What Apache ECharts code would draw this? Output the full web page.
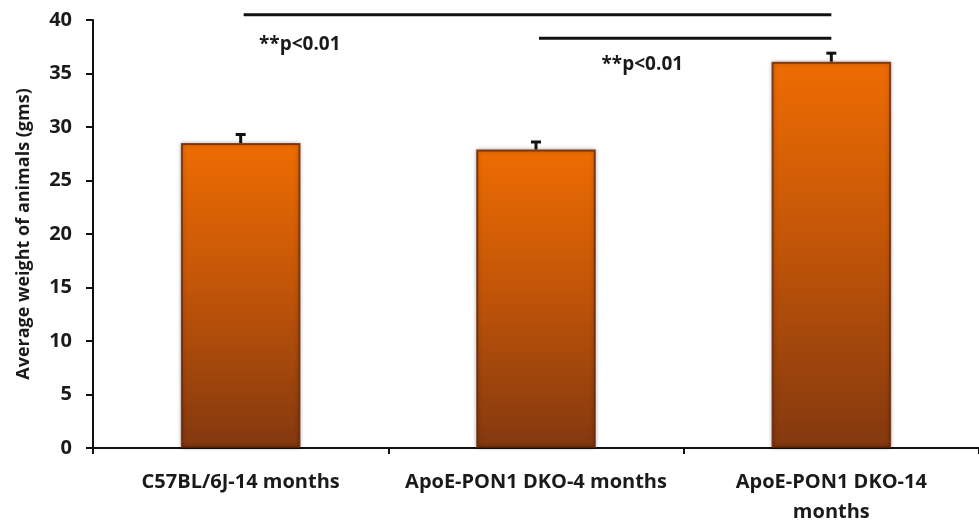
<!DOCTYPE html>
<html>
<head>
<meta charset="utf-8">
<script src="https://cdn.jsdelivr.net/npm/echarts@6/dist/echarts.min.js"></script>
<style>
html,body{margin:0;padding:0;background:#fff;}
#chart{width:979px;height:527px;}
</style>
</head>
<body>
<div id="chart"></div>
<script>
var categories = ['C57BL/6J-14 months', 'ApoE-PON1 DKO-4 months', 'ApoE-PON1 DKO-14\nmonths'];
var weights = [28.5, 27.9, 36.1];
var errors = [0.8, 0.7, 0.8];
var yTicks = { min: 0, max: 40, interval: 5 };
var sigFrom = [0, 1];
var sigTo = [2, 2];
var sigLevel = [40.5, 38.3];
var sigText = ['**p<0.01', '**p<0.01'];
var sigTextCat = [0.2, 1.36];
var sigTextLevel = [37.7, 35.8];

var FONT = '"Open Sans", Lato, sans-serif';
var chart = echarts.init(document.getElementById('chart'));

var errData = weights.map(function (v, i) { return [i, v, errors[i]]; });
var sigData = sigFrom.map(function (f, i) { return [f, sigTo[i], sigLevel[i], sigTextCat[i], sigTextLevel[i], i]; });

function catX(api, c, v) {
  var i0 = Math.floor(c), i1 = Math.min(i0 + 1, categories.length - 1);
  var p0 = api.coord([i0, v]);
  if (i1 === i0) return p0;
  var p1 = api.coord([i1, v]);
  var t = c - i0;
  return [p0[0] + (p1[0] - p0[0]) * t, p0[1]];
}

chart.setOption({
  animation: false,
  grid: { left: 93, right: 0, top: 20, bottom: 76, containLabel: false },
  xAxis: {
    type: 'category',
    data: categories,
    axisLine: { lineStyle: { color: '#111', width: 2 } },
    axisTick: { show: true, interval: 0, length: 6, lineStyle: { color: '#111', width: 2 } },
    axisLabel: { interval: 0, color: '#1a1a1a', fontFamily: FONT, fontWeight: 'bold', fontSize: 20, margin: 19, lineHeight: 30 }
  },
  yAxis: {
    type: 'value',
    min: yTicks.min, max: yTicks.max, interval: yTicks.interval,
    name: 'Average weight of animals (gms)',
    nameLocation: 'middle',
    nameGap: 60,
    nameTextStyle: { color: '#1a1a1a', fontFamily: FONT, fontWeight: 'bold', fontSize: 18 },
    axisLine: { show: true, lineStyle: { color: '#111', width: 2 } },
    axisTick: { show: true, length: 7, lineStyle: { color: '#111', width: 2 } },
    axisLabel: { color: '#1a1a1a', fontFamily: FONT, fontWeight: 'bold', fontSize: 20, margin: 21 },
    splitLine: { show: false }
  },
  series: [
    {
      type: 'bar',
      data: weights,
      barWidth: '40.5%',
      itemStyle: {
        color: new echarts.graphic.LinearGradient(0, 0, 0, 1, [
          { offset: 0, color: '#EE6C02' },
          { offset: 0.45, color: '#C45608' },
          { offset: 1, color: '#83380F' }
        ]),
        borderColor: 'rgba(100,38,5,0.8)',
        borderWidth: 2,
        shadowBlur: 4,
        shadowColor: 'rgba(0,0,0,0.3)'
      }
    },
    {
      type: 'custom',
      data: errData,
      z: 5,
      renderItem: function (params, api) {
        var x = api.value(0), v = api.value(1), e = api.value(2);
        var base = api.coord([x, v]);
        var top = api.coord([x, v + e]);
        return {
          type: 'group',
          children: [
            { type: 'line', shape: { x1: base[0], y1: base[1], x2: top[0], y2: top[1] }, style: { stroke: '#111', lineWidth: 3 } },
            { type: 'line', shape: { x1: top[0] - 5, y1: top[1], x2: top[0] + 5, y2: top[1] }, style: { stroke: '#111', lineWidth: 3 } }
          ]
        };
      }
    },
    {
      type: 'custom',
      data: sigData,
      clip: false,
      z: 6,
      renderItem: function (params, api) {
        var f = api.value(0), t = api.value(1), lv = api.value(2), tc = api.value(3), tl = api.value(4), idx = api.value(5);
        var a = api.coord([f, lv]);
        var b = api.coord([t, lv]);
        var tp = catX(api, tc, tl);
        return {
          type: 'group',
          children: [
            { type: 'line', shape: { x1: a[0] + 3, y1: a[1], x2: b[0], y2: b[1] }, style: { stroke: '#111', lineWidth: 3 } },
            { type: 'text', style: { text: sigText[idx], x: tp[0], y: tp[1], fill: '#1a1a1a', font: 'bold 19px ' + FONT, align: 'center', verticalAlign: 'middle' } }
          ]
        };
      }
    }
  ]
});
</script>
</body>
</html>
